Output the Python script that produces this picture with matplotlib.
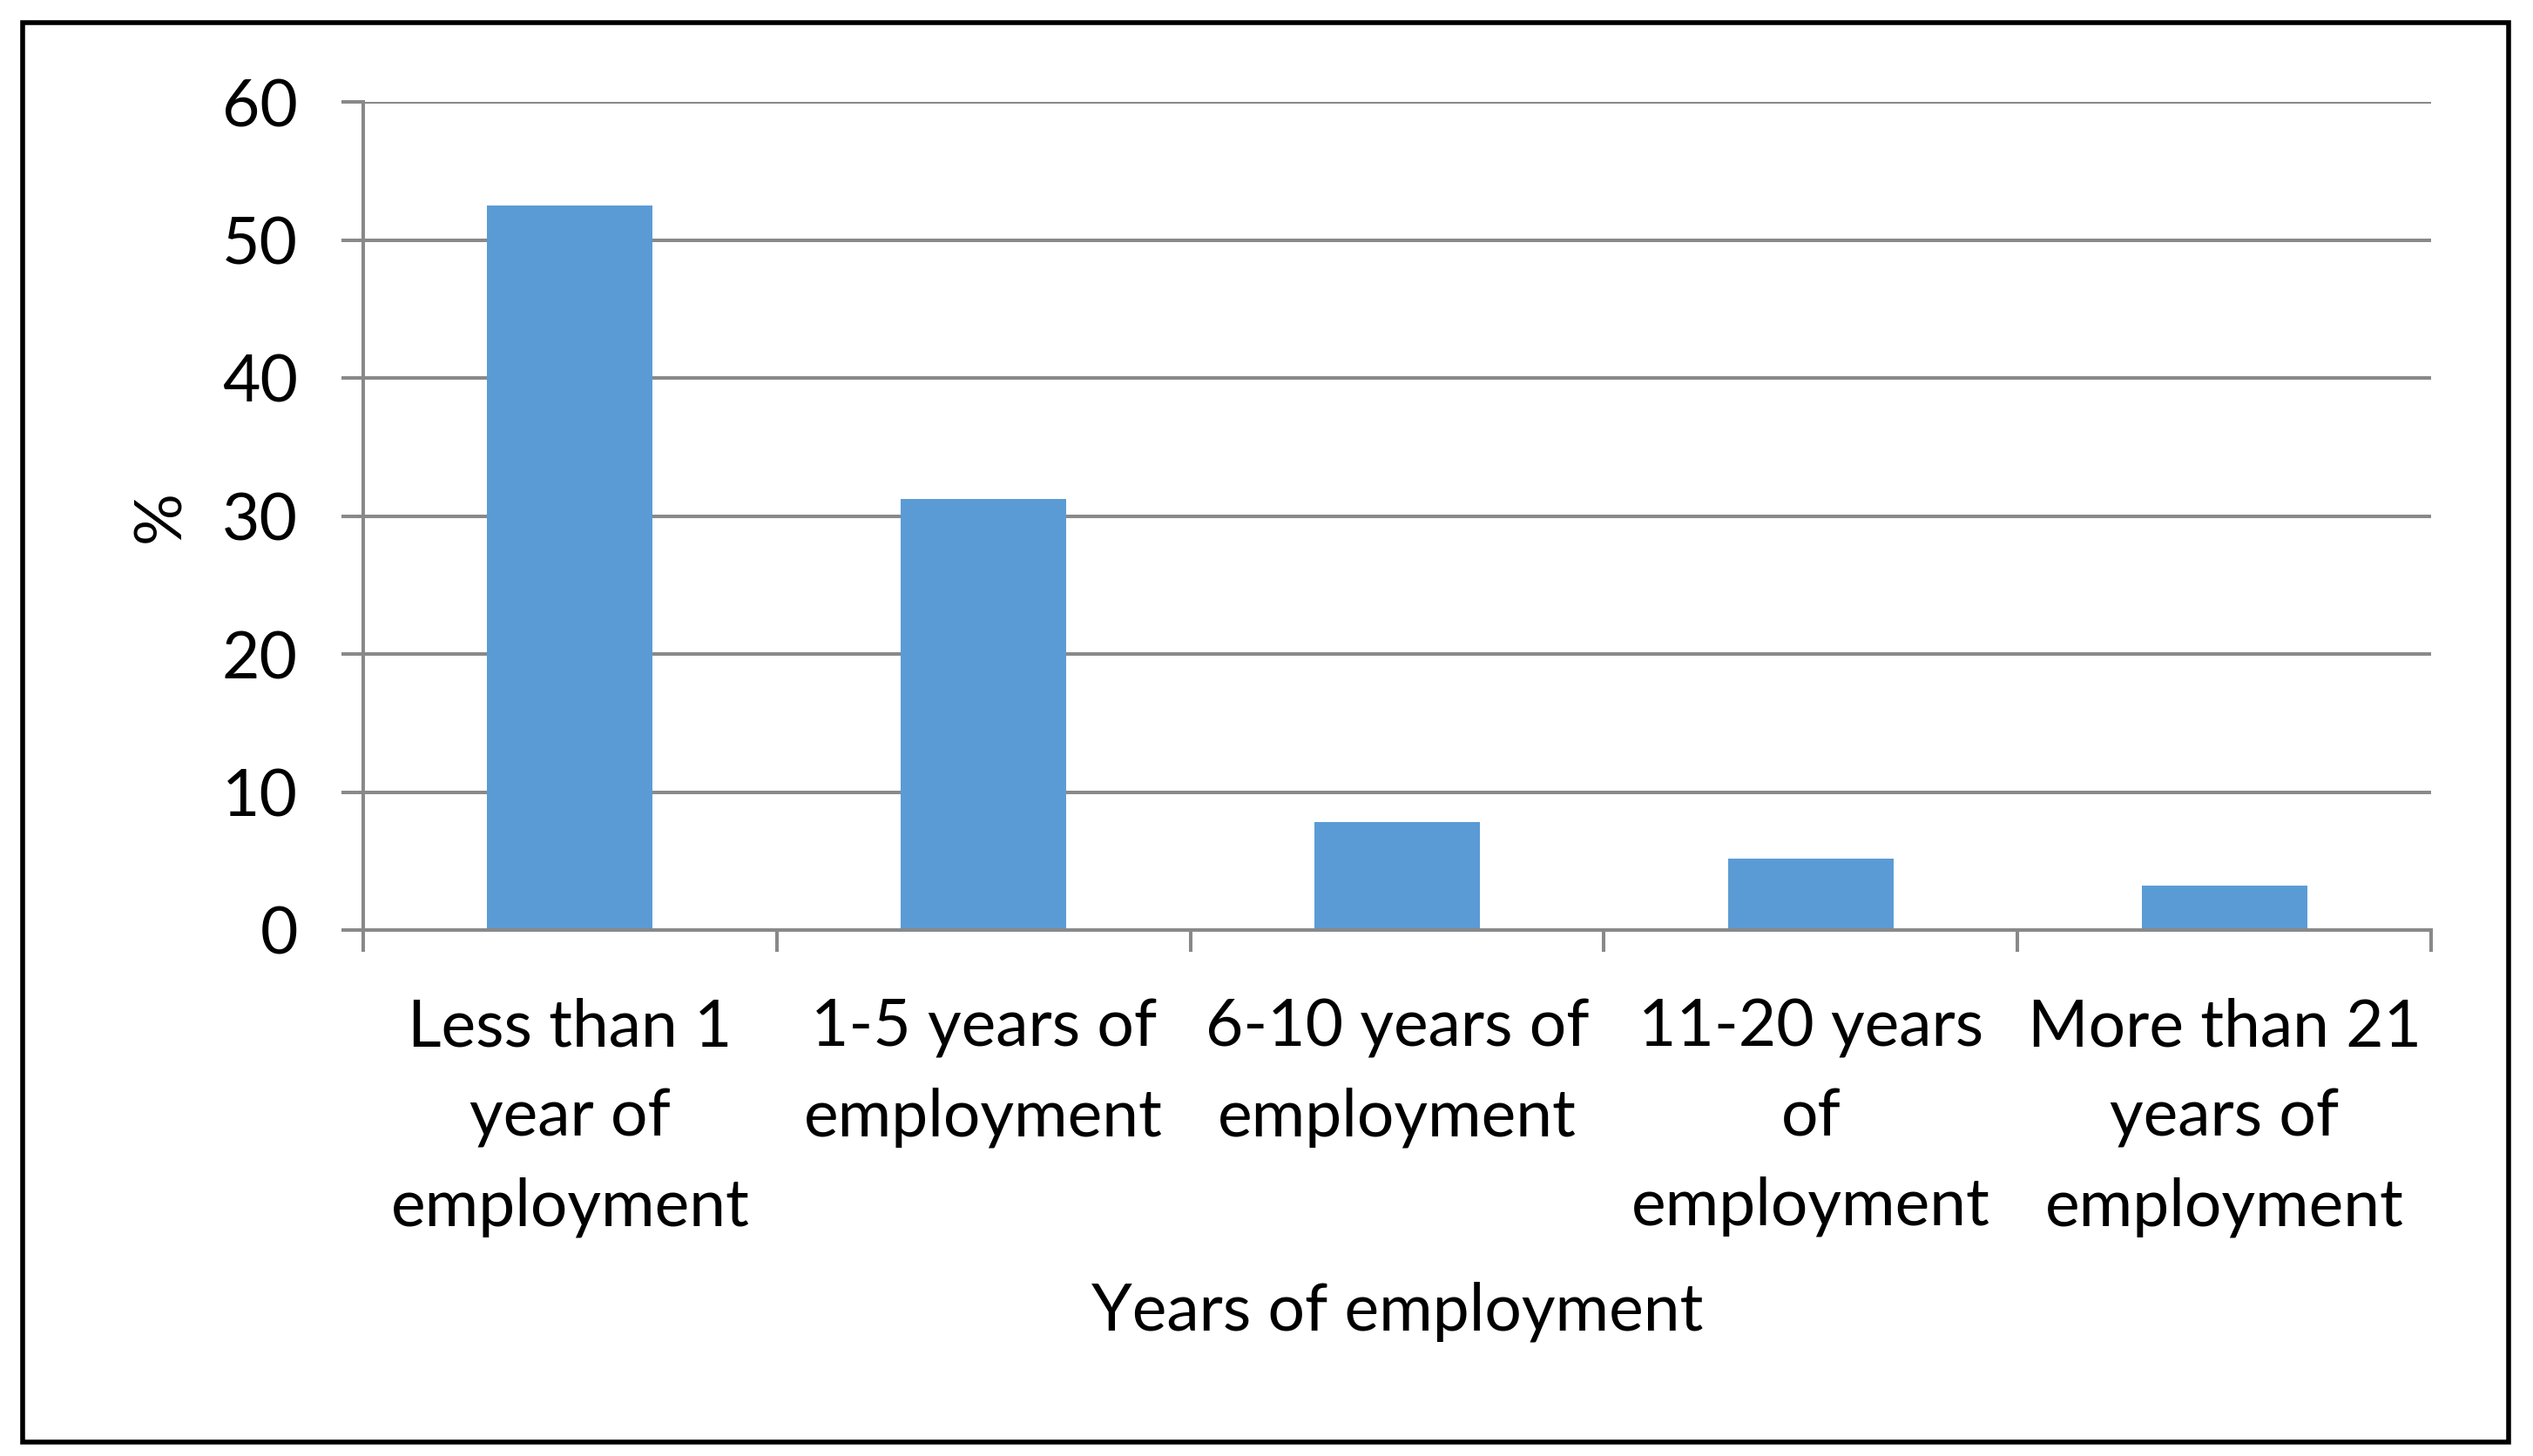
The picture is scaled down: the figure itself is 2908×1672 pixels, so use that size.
import matplotlib.pyplot as plt
from matplotlib.patches import Rectangle

categories = ["Less than 1\nyear of\nemployment",
              "1-5 years of\nemployment",
              "6-10 years of\nemployment",
              "11-20 years\nof\nemployment",
              "More than 21\nyears of\nemployment"]
percent = [52.5, 31.2, 7.8, 5.2, 3.2]
y_ticks = [0, 10, 20, 30, 40, 50, 60]

plt.rcParams['font.family'] = ['Lato', 'DejaVu Sans']
grey = '#898989'

fig = plt.figure(figsize=(29.08, 16.72), dpi=100)
ax = fig.add_axes([417 / 2908, 1 - 1068 / 1672, (2791 - 417) / 2908, (1068 - 117) / 1672])

x = range(len(percent))
ax.bar(x, percent, width=0.4, color='#5B9BD5', zorder=3)

ax.set_xlim(-0.5, len(percent) - 0.5)
ax.set_ylim(0, 60)
ax.set_yticks(y_ticks)
ax.yaxis.grid(True, color=grey, linewidth=2.9, zorder=0)

ax.set_xticks(list(x))
ax.set_xticklabels(categories, fontsize=54, linespacing=1.6)
ax.set_xticks([i - 0.5 for i in range(len(percent) + 1)], minor=True)
ax.tick_params(axis='x', which='major', length=0, pad=56)
ax.tick_params(axis='x', which='minor', length=18, width=2.9, color=grey, direction='out')
ax.tick_params(axis='y', length=18, width=2.9, color=grey, direction='out', pad=36, labelsize=54)

for side in ['top', 'right']:
    ax.spines[side].set_visible(False)
for side in ['left', 'bottom']:
    ax.spines[side].set_color(grey)
    ax.spines[side].set_linewidth(2.9)
    ax.spines[side].set_zorder(4)

fig.text(185 / 2908, 1 - 593 / 1672, '%', rotation=90, fontsize=54, ha='center', va='center')
fig.text(1604 / 2908, 1 - 1506 / 1672, 'Years of employment', fontsize=54, ha='center', va='center')

fig.patches.append(Rectangle((26 / 2908, 16 / 1672), (2880 - 26) / 2908, (1656 - 26) / 1672,
                             transform=fig.transFigure, fill=False, edgecolor='black', linewidth=4))

fig.savefig('out.png', dpi=100)
